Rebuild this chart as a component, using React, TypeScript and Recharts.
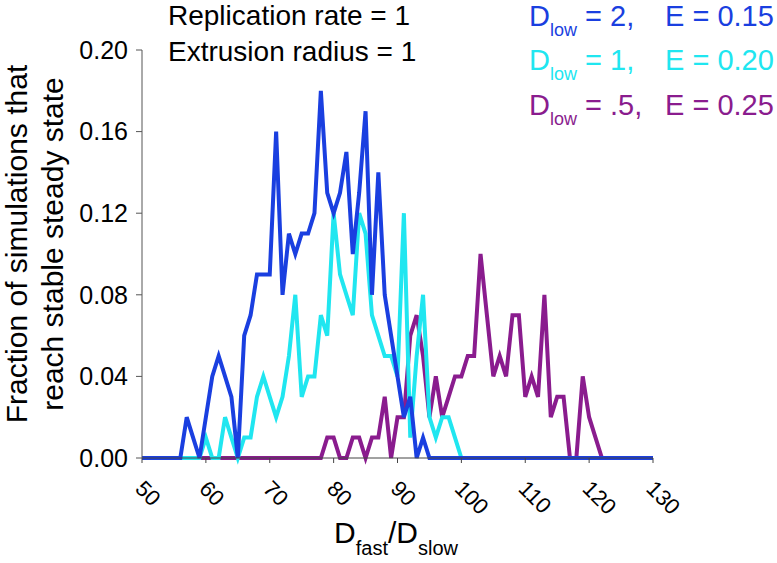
import React from "react";
import { LineChart, Line, XAxis, YAxis } from "recharts";

// D_fast / D_slow, one point per integer
const xValues = [
  50, 51, 52, 53, 54, 55, 56, 57, 58, 59, 60, 61, 62, 63, 64, 65, 66, 67, 68, 69,
  70, 71, 72, 73, 74, 75, 76, 77, 78, 79, 80, 81, 82, 83, 84, 85, 86, 87, 88, 89,
  90, 91, 92, 93, 94, 95, 96, 97, 98, 99, 100, 101, 102, 103, 104, 105, 106, 107, 108, 109,
  110, 111, 112, 113, 114, 115, 116, 117, 118, 119, 120, 121, 122, 123, 124, 125, 126, 127, 128, 129,
  130,
];

// D_low = 2, E = 0.15 (50..130)
const blueValues = [
  0, 0, 0, 0, 0, 0, 0, 0.02, 0.01, 0, 0.02, 0.04, 0.05, 0.04, 0.03, 0, 0.06, 0.07, 0.09, 0.09,
  0.09, 0.16, 0.08, 0.11, 0.1, 0.11, 0.11, 0.12, 0.18, 0.13, 0.12, 0.13, 0.15, 0.1, 0.13, 0.17, 0.08, 0.14, 0.08, 0.06,
  0.04, 0.02, 0.03, 0, 0.01, 0, 0, 0, 0, 0, 0, 0, 0, 0, 0, 0, 0, 0, 0, 0,
  0, 0, 0, 0, 0, 0, 0, 0, 0, 0, 0, 0, 0, 0, 0, 0, 0, 0, 0, 0,
  0,
];

// D_low = 1, E = 0.20 (50..100)
const cyanValues = [
  0, 0, 0, 0, 0, 0, 0, 0, 0, 0, 0.01, 0, 0, 0.02, 0.01, 0, 0.01, 0.01, 0.03, 0.04,
  0.03, 0.02, 0.03, 0.05, 0.08, 0.03, 0.04, 0.04, 0.07, 0.06, 0.12, 0.09, 0.08, 0.07, 0.12, 0.11, 0.07, 0.06, 0.05, 0.05,
  0.04, 0.12, 0.01, 0.05, 0.08, 0.02, 0.01, 0.02, 0.02, 0.01, 0,
];

// D_low = .5, E = 0.25 (50..122)
const purpleValues = [
  0, 0, 0, 0, 0, 0, 0, 0, 0, 0, 0, 0, 0, 0, 0, 0, 0, 0, 0, 0,
  0, 0, 0, 0, 0, 0, 0, 0, 0, 0.01, 0.01, 0, 0, 0.01, 0.01, 0, 0.01, 0.01, 0.03, 0,
  0.02, 0.02, 0.06, 0.07, 0.05, 0.02, 0.04, 0.02, 0.03, 0.04, 0.04, 0.05, 0.05, 0.1, 0.07, 0.04, 0.05, 0.04, 0.07, 0.07,
  0.03, 0.04, 0.03, 0.08, 0.02, 0.03, 0.03, 0, 0, 0.04, 0.02, 0.01, 0,
];

const xTicks = [50, 60, 70, 80, 90, 100, 110, 120, 130];
const yTicks = [0, 0.04, 0.08, 0.12, 0.16, 0.2];

const BLUE = "#1a3fe0";
const CYAN = "#20e6f0";
const PURPLE = "#8a1c8e";
const FONT = "'Liberation Sans', Arial, sans-serif";

const data = xValues.map((x, i) => ({
  x,
  blue: blueValues[i],
  cyan: i < cyanValues.length ? cyanValues[i] : null,
  purple: i < purpleValues.length ? purpleValues[i] : null,
}));

// rotated x tick labels, text starts just left of and below the tick
const XTick = ({ x, y, payload }: any) => (
  <g transform={`translate(${x - 8},${y + 27}) rotate(45)`}>
    <text x={0} y={0} textAnchor="start" fontSize={22} fontFamily={FONT} fill="#000">
      {payload.value}
    </text>
  </g>
);

const legendRows = [
  { d: "2,", e: "0.15", color: BLUE, y: 26 },
  { d: "1,", e: "0.20", color: CYAN, y: 70 },
  { d: ".5,", e: "0.25", color: PURPLE, y: 115 },
];

export default function App() {
  return (
    <div style={{ position: "absolute", left: 0, top: 0, width: 777, height: 563, background: "#fff" }}>
      <LineChart
        width={777}
        height={563}
        data={data}
        margin={{ top: 50, right: 124, bottom: 0, left: 0 }}
      >
        <XAxis
          dataKey="x"
          type="number"
          domain={[50, 130]}
          ticks={xTicks}
          height={105}
          tick={<XTick />}
          tickSize={5}
          tickMargin={0}
          stroke="#444"
          allowDataOverflow
        />
        <YAxis
          type="number"
          domain={[0, 0.2]}
          ticks={yTicks}
          width={142}
          tickSize={6}
          tickMargin={8}
          stroke="#555"
          tick={{ fontSize: 25, fontFamily: FONT, fill: "#000" }}
          tickFormatter={(v: number) => v.toFixed(2)}
        />
        <Line type="linear" dataKey="purple" stroke={PURPLE} strokeWidth={4} dot={false} isAnimationActive={false} />
        <Line type="linear" dataKey="cyan" stroke={CYAN} strokeWidth={4} dot={false} isAnimationActive={false} />
        <Line type="linear" dataKey="blue" stroke={BLUE} strokeWidth={4} dot={false} isAnimationActive={false} />
      </LineChart>
      <svg
        width={777}
        height={563}
        style={{ position: "absolute", left: 0, top: 0, pointerEvents: "none" }}
        fontFamily={FONT}
      >
        <text x={168} y={25} fontSize={28} fill="#000">Replication rate = 1</text>
        <text x={168} y={61} fontSize={28} fill="#000">Extrusion radius = 1</text>
        {legendRows.map((r) => (
          <g key={r.e} fill={r.color}>
            <text x={529} y={r.y} fontSize={29}>
              D<tspan fontSize={18} dy={10}>low</tspan>
              <tspan dy={-10}> = {r.d}</tspan>
            </text>
            <text x={665} y={r.y} fontSize={29}>E = {r.e}</text>
          </g>
        ))}
        <g transform="translate(27,244) rotate(-90)">
          <text x={0} y={0} textAnchor="middle" fontSize={30} fill="#000">Fraction of simulations that</text>
          <text x={0} y={36} textAnchor="middle" fontSize={30} fill="#000">reach stable steady state</text>
        </g>
        <text x={396} y={543} textAnchor="middle" fontSize={30} fill="#000">
          D<tspan fontSize={20} dy={12}>fast</tspan>
          <tspan dy={-12}>/D</tspan>
          <tspan fontSize={20} dy={12}>slow</tspan>
        </text>
      </svg>
    </div>
  );
}
